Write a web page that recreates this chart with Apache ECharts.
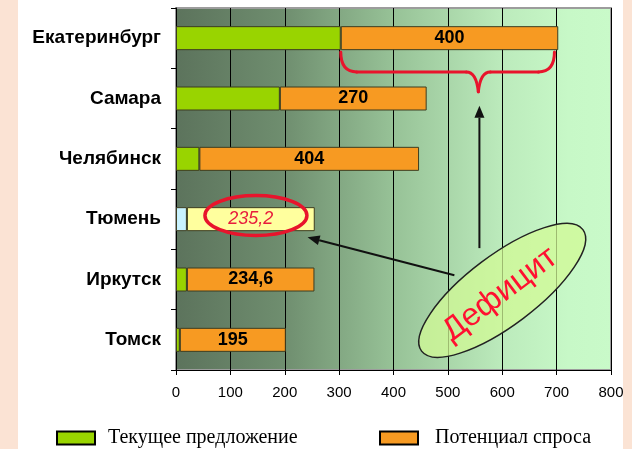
<!DOCTYPE html>
<html>
<head>
<meta charset="utf-8">
<script src="https://cdn.jsdelivr.net/npm/echarts@6/dist/echarts.min.js"></script>
<style>
	html, body { margin: 0; padding: 0; }
	#box {
		width: 632px;
		height: 449px;
		background: linear-gradient(to right, #fbe3d4 18px, #fff 18px, #fff 623px, #fbe3d4 623px);
	}
	#chart { width: 632px; height: 449px; }
</style>
</head>
<body>
<div id="box"><div id="chart"></div></div>
<script>
// 城市
const cities = ["Екатеринбург", "Самара", "Челябинск", "Тюмень", "Иркутск", "Томск"];
// 当前供给
const supply = [303, 191, 43, 20, 20, 7];
// 潜在需求
const demand = [400, 270, 404, 235.2, 234.6, 195];
const names = ["Текущее предложение", "Потенциал спроса"];
const xMin = 0, xMax = 800, xStep = 100;

const font = "Liberation Sans, Arial, sans-serif";
const myChart = echarts.init(document.querySelector("#chart"));

const option = {
	animation: false,
	grid: {
		left: 176,
		right: 21,
		top: 8,
		bottom: 79,
		show: true,
		borderColor: "#9c9c9c",
		borderWidth: 2,
		backgroundColor: new echarts.graphic.LinearGradient(0, 0, 1, 0, [
			{ offset: 0, color: "#5c735c" },
			{ offset: 0.25, color: "#6f8e6f" },
			{ offset: 0.5, color: "#97c297" },
			{ offset: 0.75, color: "#bcebbc" },
			{ offset: 0.9, color: "#c7f8c7" },
			{ offset: 1, color: "#c9fac9" },
		]),
	},
	xAxis: {
		type: "value",
		min: xMin,
		max: xMax,
		interval: xStep,
		axisLine: { show: true, lineStyle: { color: "#000", width: 1 } },
		axisTick: { show: true, length: 5, lineStyle: { color: "#000" } },
		splitLine: { show: true, lineStyle: { color: "#000", width: 1 } },
		axisLabel: { color: "#000", fontFamily: font, fontSize: 15, margin: 15 },
	},
	yAxis: {
		type: "category",
		inverse: true,
		data: cities,
		axisLine: { show: true, lineStyle: { color: "#000", width: 1 } },
		axisTick: { show: true, length: 5, lineStyle: { color: "#000" } },
		axisLabel: { color: "#000", fontFamily: font, fontSize: 19, fontWeight: "bold", margin: 15 },
	},
	legend: [
		{
			data: [names[0]],
			left: 56,
			top: 428,
			padding: 0,
			itemWidth: 38,
			itemHeight: 13,
			icon: "rect",
			itemStyle: { borderColor: "#000", borderWidth: 2 },
			textStyle: { fontFamily: "Liberation Serif, Times New Roman, serif", fontSize: 20, color: "#000", padding: [0, 0, 0, 8] },
		},
		{
			data: [names[1]],
			left: 379,
			top: 428,
			padding: 0,
			itemWidth: 38,
			itemHeight: 13,
			icon: "rect",
			itemStyle: { borderColor: "#000", borderWidth: 2 },
			textStyle: { fontFamily: "Liberation Serif, Times New Roman, serif", fontSize: 20, color: "#000", padding: [0, 0, 0, 12] },
		},
	],
	series: [
		{
			name: names[0],
			type: "bar",
			stack: "all",
			barWidth: 24,
			itemStyle: { color: "#99d400", borderColor: "#3d3d20", borderWidth: 1 },
			data: supply.map((v, i) =>
				cities[i] === "Тюмень" ? { value: v, itemStyle: { color: "#c9f3ff" } } : v
			),
		},
		{
			name: names[1],
			type: "bar",
			stack: "all",
			barWidth: 24,
			itemStyle: { color: "#f79a22", borderColor: "#3d3d20", borderWidth: 1 },
			label: {
				show: true,
				position: "inside",
				color: "#000",
				fontFamily: font,
				fontSize: 18,
				fontWeight: "bold",
				formatter: (p) => String(p.value).replace(".", ","),
			},
			data: demand.map((v, i) =>
				cities[i] === "Тюмень"
					? {
							value: v,
							itemStyle: { color: "#ffff9e" },
							label: { color: "#e81c3c", fontStyle: "italic", fontWeight: "normal" },
					  }
					: v
			),
		},
	],
};

myChart.setOption(option);

// 注释: 用坐标轴换算位置
const xp = (v) => myChart.convertToPixel({ xAxisIndex: 0 }, v);
const y0 = myChart.convertToPixel({ yAxisIndex: 0 }, 0);
const band = myChart.convertToPixel({ yAxisIndex: 0 }, 1) - y0;
const yp = (f) => y0 + f * band;

const arrow = (x1, y1, x2, y2, z) => {
	const ang = Math.atan2(y2 - y1, x2 - x1);
	const L = 12, W = 5;
	const bx = x2 - L * Math.cos(ang), by = y2 - L * Math.sin(ang);
	return [
		{
			type: "line",
			z: z,
			shape: { x1, y1, x2: bx, y2: by },
			style: { stroke: "#111", lineWidth: 2 },
		},
		{
			type: "polygon",
			z: z,
			shape: {
				points: [
					[x2, y2],
					[bx + W * Math.sin(ang), by - W * Math.cos(ang)],
					[bx - W * Math.sin(ang), by + W * Math.cos(ang)],
				],
			},
			style: { fill: "#111" },
		},
	];
};

// 大括号 (曲线 + 直线)
const bL = xp(303), bR = xp(696), bC = xp(556);
const bTop = yp(0.23), bMid = yp(0.56), bPt = yp(0.89);
const braceStyle = { stroke: "#e8142c", lineWidth: 3, fill: null, lineCap: "round" };
const curve = (x1, y1, cx, cy, x2, y2) => ({
	type: "bezierCurve",
	z: 100,
	shape: { x1, y1, cpx1: cx, cpy1: cy, x2, y2 },
	style: braceStyle,
});
const seg = (x1, y1, x2, y2) => ({
	type: "line",
	z: 100,
	shape: { x1, y1, x2, y2 },
	style: braceStyle,
});
const brace = [
	curve(bL, bTop, bL, bMid, bL + 16, bMid),
	seg(bL + 16, bMid, bC - 12, bMid),
	curve(bC - 12, bMid, bC - 2, bMid, bC, bPt),
	curve(bC, bPt, bC + 2, bMid, bC + 12, bMid),
	seg(bC + 12, bMid, bR - 16, bMid),
	curve(bR - 16, bMid, bR, bMid, bR, bTop),
];

const eX = xp(600), eY = yp(4.18);
const rX = xp(147), rY = yp(2.94);

const graphics = [
	...brace,
	...arrow(xp(558), yp(3.48), xp(558), yp(1.12), 100),
	...arrow(xp(512), yp(3.93), xp(242), yp(3.3), 100),
	{
		type: "ellipse",
		z: 101,
		x: rX,
		y: rY,
		shape: { cx: 0, cy: 0, rx: 51, ry: 20 },
		style: { stroke: "#e8142c", lineWidth: 3.5, fill: null },
	},
	{
		type: "ellipse",
		z: 110,
		x: eX,
		y: eY,
		rotation: (37 * Math.PI) / 180,
		shape: { cx: 0, cy: 0, rx: 101, ry: 35 },
		style: { stroke: "#222", lineWidth: 1.5, fill: "rgba(210,250,150,0.75)" },
	},
	{
		type: "text",
		z: 111,
		x: eX - 2,
		y: eY + 4,
		rotation: (37 * Math.PI) / 180,
		style: {
			text: "Дефицит",
			fill: "#ff1030",
			font: "32px Liberation Sans, Arial, sans-serif",
			textAlign: "center",
			textVerticalAlign: "middle",
			verticalAlign: "middle",
		},
	},
];

myChart.setOption({ graphic: graphics });
</script>
</body>
</html>
